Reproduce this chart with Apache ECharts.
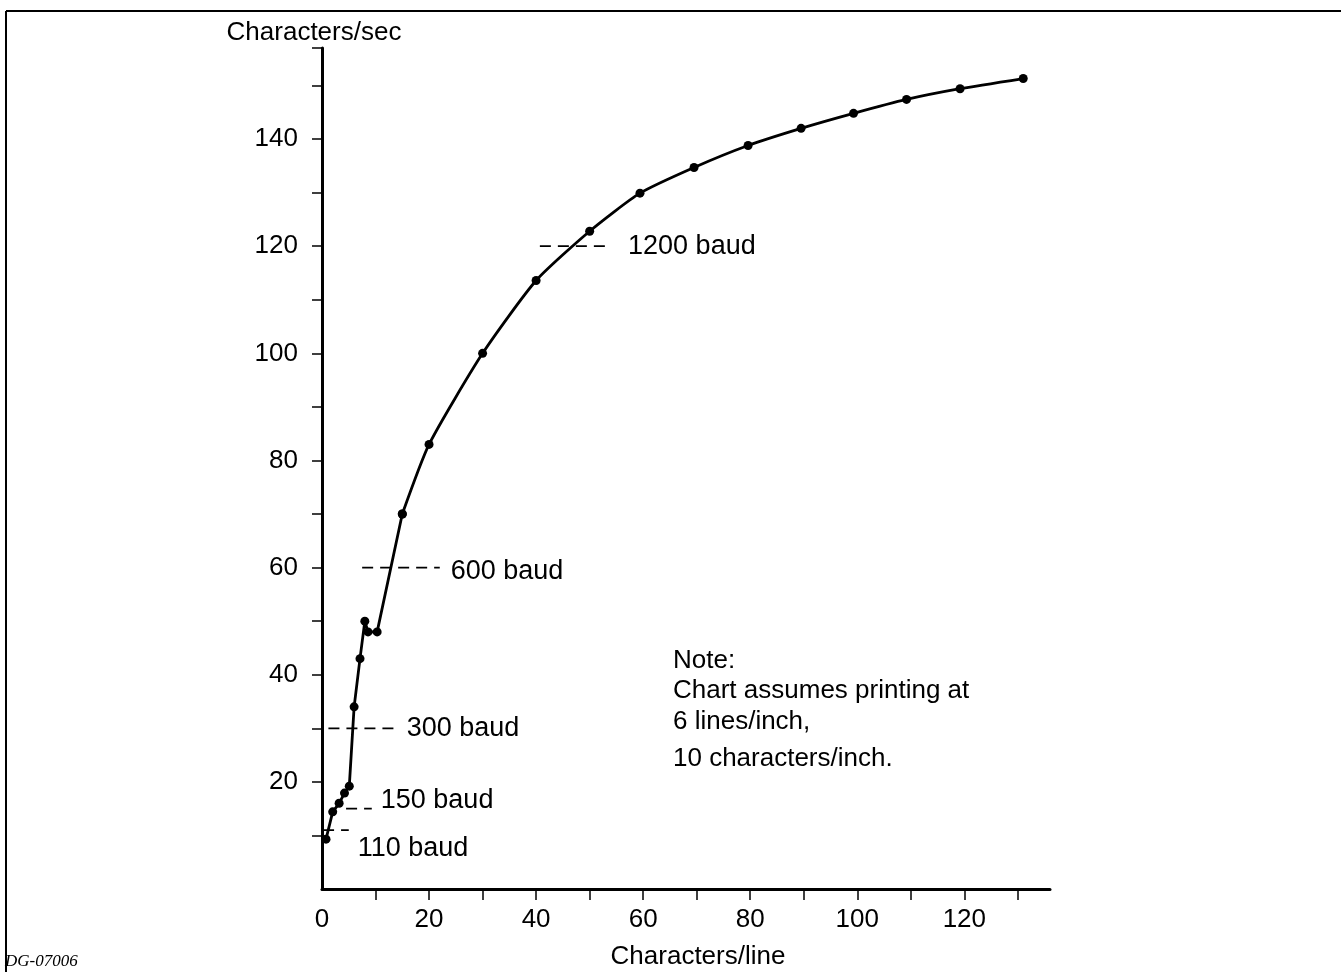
<!DOCTYPE html>
<html>
<head>
<meta charset="utf-8">
<style>
html,body{margin:0;padding:0;background:#fff;}
#c{width:1341px;height:972px;}
</style>
<script src="https://cdn.jsdelivr.net/npm/echarts@6/dist/echarts.min.js"></script>
</head>
<body>
<div id="c"></div>
<script>
// Printer throughput curve: [characters per line, characters per second]
var curvePoints = [
  [0.75, 9.3], [2.0, 14.4], [3.2, 16], [4.2, 17.9], [5.1, 19.2],
  [6.0, 34], [7.1, 43], [8.0, 50], [8.6, 48], [10.3, 48],
  [15, 70], [20, 83], [30, 100], [40, 113.6], [50, 122.8],
  [59.4, 129.9], [69.5, 134.7], [79.6, 138.8], [89.5, 142],
  [99.3, 144.8], [109.2, 147.4], [119.2, 149.4], [131, 151.3]
];
// Baud-rate reference lines: name, cps level, x start, x end
var baudNames = ['110 baud', '150 baud', '300 baud', '600 baud', '1200 baud'];
var baudLevels = [11, 15, 30, 60, 120];
var baudStart = [0.2, 4.5, 1.2, 7.5, 40.7];
var baudEnd = [5.0, 9.3, 13.4, 22, 54];
var xTickValues = [10, 20, 30, 40, 50, 60, 70, 80, 90, 100, 110, 120, 130];
var xLabelValues = [0, 20, 40, 60, 80, 100, 120];
var yTickValues = [10, 20, 30, 40, 50, 60, 70, 80, 90, 100, 110, 120, 130, 140, 150, 157];
var yLabelValues = [20, 40, 60, 80, 100, 120, 140];
var noteLines = ['Note:', 'Chart assumes printing at', '6 lines/inch,', '10 characters/inch.'];

var FONT = '"Liberation Sans", Arial, sans-serif';
var labelOffsets = [[4, 18], [4, -8], [8, 0], [6, 4], [12, 0]];

var chart = echarts.init(document.getElementById('c'), null, {renderer: 'canvas'});

// steep, kinked low-speed section drawn straight; upper section smooth
var splitIdx = 10;
var series = [{
  type: 'line',
  data: curvePoints.slice(0, splitIdx + 1),
  smooth: false,
  symbol: 'circle',
  symbolSize: 9,
  showSymbol: true,
  itemStyle: {color: '#000'},
  lineStyle: {color: '#000', width: 2.8},
  z: 5
}, {
  type: 'line',
  data: curvePoints.slice(splitIdx),
  smooth: 0.2,
  symbol: 'circle',
  symbolSize: 9,
  showSymbol: true,
  itemStyle: {color: '#000'},
  lineStyle: {color: '#000', width: 2.8},
  z: 5
}];
baudNames.forEach(function (n, i) {
  series.push({
    type: 'line',
    name: n,
    data: [[baudStart[i], baudLevels[i]], [baudEnd[i], baudLevels[i]]],
    showSymbol: false,
    symbol: 'none',
    lineStyle: {color: '#000', width: 1.8, type: [11, 7]},
    endLabel: {
      show: true,
      formatter: n,
      color: '#000',
      fontFamily: FONT,
      fontSize: 27,
      distance: 5,
      offset: labelOffsets[i]
    },
    z: 4
  });
});

var graphics = [
  {type: 'line', shape: {x1: 6, y1: 11, x2: 1341, y2: 11}, style: {stroke: '#000', lineWidth: 2}},
  {type: 'line', shape: {x1: 6, y1: 11, x2: 6, y2: 972}, style: {stroke: '#000', lineWidth: 2}},
  {type: 'text', x: 5, y: 962, style: {text: 'DG-07006', fill: '#000', textVerticalAlign: 'middle', font: 'italic 17px "Liberation Serif", "DejaVu Serif", serif'}}
];
var noteY = [661, 691, 722, 759];
noteLines.forEach(function (t, i) {
  graphics.push({type: 'text', x: 673, y: noteY[i], style: {text: t, fill: '#000', font: '26px ' + FONT, textVerticalAlign: 'middle'}});
});

chart.setOption({
  animation: false,
  backgroundColor: '#fff',
  grid: {left: 322, right: 291, top: 48, bottom: 83, containLabel: false, outerBoundsMode: 'none'},
  xAxis: {
    type: 'value',
    min: 0, max: 136,
    name: 'Characters/line',
    nameLocation: 'middle',
    nameGap: 55,
    nameTextStyle: {color: '#000', fontFamily: FONT, fontSize: 26, padding: [0, 0, 0, 24]},
    axisLine: {show: true, lineStyle: {color: '#000', width: 3}},
    axisTick: {show: true, inside: false, length: 11, customValues: xTickValues, lineStyle: {color: '#000', width: 1.5}},
    axisLabel: {show: true, customValues: xLabelValues, color: '#000', fontFamily: FONT, fontSize: 26, margin: 18},
    splitLine: {show: false}
  },
  yAxis: {
    type: 'value',
    min: 0, max: 157,
    name: 'Characters/sec',
    nameLocation: 'end',
    nameGap: 2,
    nameTextStyle: {color: '#000', fontFamily: FONT, fontSize: 26, padding: [0, 16, 0, 0]},
    axisLine: {show: true, lineStyle: {color: '#000', width: 3}},
    axisTick: {show: true, inside: false, length: 10, customValues: yTickValues, lineStyle: {color: '#000', width: 1.5}},
    axisLabel: {show: true, customValues: yLabelValues, color: '#000', fontFamily: FONT, fontSize: 26, margin: 24},
    splitLine: {show: false}
  },
  series: series,
  graphic: graphics
});
</script>
</body>
</html>
